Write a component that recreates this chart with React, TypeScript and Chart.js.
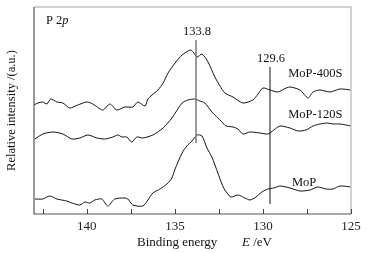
import React, { useEffect, useRef } from "react";
import { Chart, registerables } from "chart.js";

Chart.register(...registerables);

// Binding energy (eV) and relative intensity (a.u.)
const energyMoP400S = [143.0, 142.78, 142.5, 142.27, 142.05, 141.7, 141.36, 140.97, 140.51, 140.0, 139.66, 139.1, 138.69, 138.3, 137.84, 137.39, 137.1, 136.7, 136.53, 136.3, 135.96, 135.67, 135.39, 134.99, 134.59, 134.13, 133.96, 133.74, 133.46, 133.12, 132.73, 132.44, 132.16, 131.7, 131.14, 130.57, 130.28, 130.0, 129.6, 129.15, 128.8, 128.47, 127.9, 127.44, 127.16, 126.76, 126.19, 125.63, 125.0];
const intensityMoP400S = [109, 111, 112, 110, 115, 112, 111, 106, 109, 112, 110, 104, 110, 104, 107, 107, 112, 108, 115, 119, 124, 131, 141, 151, 159, 164, 162, 157, 160, 152, 137, 128, 121, 117, 111, 114, 120, 126, 124, 122, 125, 127, 124, 116, 122, 124, 122, 125, 124];

const energyMoP120S = [142.95, 142.5, 141.93, 141.36, 140.85, 140.4, 139.94, 139.43, 138.98, 138.52, 138.24, 138.01, 137.73, 137.45, 137.16, 136.82, 136.25, 135.67, 135.17, 134.59, 134.26, 133.86, 133.58, 133.3, 132.9, 132.56, 132.33, 132.1, 131.7, 131.42, 131.14, 130.74, 130.17, 129.72, 129.38, 129.03, 128.47, 128.01, 127.56, 127.16, 126.76, 126.36, 126.02, 125.63, 125.0];
const intensityMoP120S = [75, 80, 82, 80, 75, 76, 79, 76, 75, 77, 79, 77, 77, 72, 77, 76, 79, 86, 96, 111, 114, 115, 113, 111, 102, 96, 92, 88, 87, 85, 80, 82, 81, 80, 84, 88, 86, 83, 84, 88, 90, 91, 90, 90, 88];

const energyMoP = [142.95, 142.5, 142.1, 141.7, 141.14, 140.85, 140.4, 140.11, 139.83, 139.55, 139.15, 138.81, 138.41, 137.84, 137.67, 137.39, 136.82, 136.53, 136.25, 135.85, 135.45, 135.17, 134.99, 134.59, 134.32, 134.03, 133.74, 133.46, 133.18, 132.9, 132.56, 132.33, 132.16, 131.82, 131.42, 131.02, 130.74, 130.4, 130.06, 129.72, 129.38, 129.03, 128.47, 127.9, 127.33, 126.88, 126.42, 126.02, 125.63, 125.0];
const intensityMoP = [15, 15, 18, 15, 13, 11, 9, 12, 11, 14, 15, 8, 15, 16, 15, 9, 8, 14, 21, 25, 30, 36, 45, 61, 68, 73, 79, 78, 66, 57, 41, 30, 24, 17, 19, 16, 14, 17, 22, 25, 26, 28, 26, 23, 24, 27, 25, 25, 28, 27];

const seriesNames = ["MoP-400S", "MoP-120S", "MoP"];
// label anchor positions (energy, intensity)
const labelEnergies = [127.03, 127.03, 127.66];
const labelIntensities = [140, 99, 31];

const xMajorTicks = [140, 135, 130, 125];
const xMinorTicks = [142.5, 137.5, 132.5, 127.5];
const xMin = 125;
const xMax = 143;
const yMin = 0;
const yMax = 207;

// peak marker lines: energy, from intensity, to intensity, label intensity
const peakEnergies = [133.8, 129.6];
const peakLineTop = [174, 147];
const peakLineBottom = [71, 10];
const peakLabelIntensity = [182, 155];

const SERIF = '"Liberation Serif", "Times New Roman", serif';

export default function App() {
  const ref = useRef<HTMLCanvasElement>(null);

  useEffect(() => {
    document.body.style.margin = "0";
    const canvas = ref.current;
    if (!canvas) return;

    const pts = (xs: number[], ys: number[]) => xs.map((x, i) => ({ x, y: ys[i] }));

    const annot = {
      id: "annot",
      afterDraw(chart: any) {
        const ctx = chart.ctx as CanvasRenderingContext2D;
        const xs = chart.scales.x;
        const ys = chart.scales.y;
        const { left, right, top, bottom } = chart.chartArea;
        ctx.save();

        // frame
        ctx.lineWidth = 1.5;
        ctx.strokeStyle = "#c4c4c4";
        ctx.beginPath();
        ctx.moveTo(left, top);
        ctx.lineTo(right, top);
        ctx.lineTo(right, bottom);
        ctx.stroke();
        ctx.lineWidth = 1.2;
        ctx.strokeStyle = "#555";
        ctx.beginPath();
        ctx.moveTo(left, top);
        ctx.lineTo(left, bottom);
        ctx.lineTo(right, bottom);
        ctx.stroke();

        // inward tick marks
        ctx.lineWidth = 1;
        ctx.strokeStyle = "#444";
        [...xMajorTicks, ...xMinorTicks].forEach((v) => {
          const px = Math.round(xs.getPixelForValue(v)) + 0.5;
          ctx.beginPath();
          ctx.moveTo(px, bottom);
          ctx.lineTo(px, bottom - 5);
          ctx.stroke();
        });

        // peak lines
        peakEnergies.forEach((e, i) => {
          const px = xs.getPixelForValue(e);
          ctx.strokeStyle = i === 0 ? "#808080" : "#111";
          ctx.lineWidth = i === 0 ? 1.6 : 1;
          ctx.beginPath();
          ctx.moveTo(px, ys.getPixelForValue(peakLineTop[i]));
          ctx.lineTo(px, ys.getPixelForValue(peakLineBottom[i]));
          ctx.stroke();
          ctx.fillStyle = "#111";
          ctx.font = `12.5px ${SERIF}`;
          ctx.textAlign = "center";
          ctx.textBaseline = "middle";
          ctx.fillText(e.toFixed(1), px + 1, ys.getPixelForValue(peakLabelIntensity[i]));
        });

        // series labels
        ctx.font = `12.5px ${SERIF}`;
        ctx.fillStyle = "#111";
        ctx.textAlign = "center";
        ctx.textBaseline = "middle";
        seriesNames.forEach((n, i) => {
          ctx.fillText(n, xs.getPixelForValue(labelEnergies[i]), ys.getPixelForValue(labelIntensities[i]));
        });

        // P 2p
        ctx.textAlign = "left";
        ctx.font = `12.5px ${SERIF}`;
        const pText = "P 2";
        ctx.fillText(pText, left + 12, top + 14);
        const w = ctx.measureText(pText).width;
        ctx.font = `italic 12.5px ${SERIF}`;
        ctx.fillText("p", left + 12 + w, top + 14);

        // x title
        ctx.font = `13px ${SERIF}`;
        ctx.fillText("Binding energy", 137, 243);
        ctx.font = `italic 13px ${SERIF}`;
        ctx.fillText("E", 242, 243);
        const we = ctx.measureText("E").width;
        ctx.font = `13px ${SERIF}`;
        ctx.fillText(" /eV", 242 + we, 243);

        // y title
        ctx.translate(12, (top + bottom) / 2);
        ctx.rotate(-Math.PI / 2);
        ctx.textAlign = "center";
        ctx.font = `12.5px ${SERIF}`;
        ctx.fillText("Relative intensity /(a.u.)", 0, 0);

        ctx.restore();
      },
    };

    const lineStyle = {
      borderColor: "#111",
      borderWidth: 1,
      pointRadius: 0,
      tension: 0.25,
      fill: false,
    };

    const chart = new Chart(canvas, {
      type: "line",
      data: {
        datasets: [
          { label: seriesNames[0], data: pts(energyMoP400S, intensityMoP400S), ...lineStyle },
          { label: seriesNames[1], data: pts(energyMoP120S, intensityMoP120S), ...lineStyle },
          { label: seriesNames[2], data: pts(energyMoP, intensityMoP), ...lineStyle },
        ],
      },
      options: {
        animation: false,
        responsive: false,
        events: [],
        layout: { padding: { top: 7, right: 22, left: 0, bottom: 0 } },
        plugins: { legend: { display: false }, tooltip: { enabled: false } },
        scales: {
          x: {
            type: "linear",
            reverse: true,
            min: xMin,
            max: xMax,
            grid: { display: false, drawTicks: false },
            border: { display: false },
            afterBuildTicks: (s: any) => {
              s.ticks = [...xMajorTicks, ...xMinorTicks].sort((a, b) => a - b).map((v) => ({ value: v }));
            },
            afterFit: (s: any) => {
              s.height = 39;
            },
            ticks: {
              padding: 5,
              color: "#222",
              font: { family: SERIF, size: 13 },
              maxRotation: 0,
              autoSkip: false,
              callback: (v: any) => (xMajorTicks.includes(Number(v)) ? String(v) : ""),
            },
          },
          y: {
            type: "linear",
            min: yMin,
            max: yMax,
            grid: { display: false, drawTicks: false },
            border: { display: false },
            ticks: { display: false },
            afterFit: (s: any) => {
              s.width = 34;
            },
          },
        },
      },
      plugins: [annot],
    });

    return () => chart.destroy();
  }, []);

  return (
    <div style={{ width: 373, height: 253 }}>
      <canvas ref={ref} width={373} height={253} style={{ display: "block" }} />
    </div>
  );
}
